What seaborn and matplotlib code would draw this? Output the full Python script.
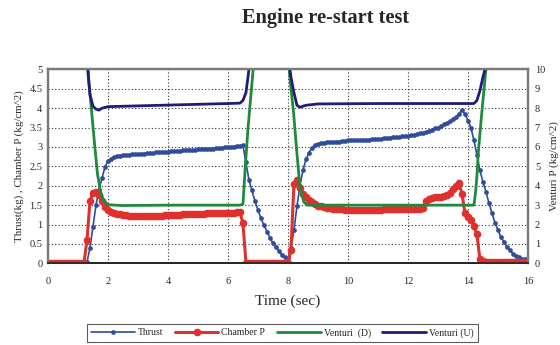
import matplotlib
matplotlib.use("Agg")
import matplotlib.pyplot as plt
import seaborn as sns
import numpy as np

# ---------------- data ----------------
time_grid = [round(0.1 * i, 1) for i in range(161)]

thrust = [0, 0, 0, 0, 0, 0, 0, 0, 0, 0, 0, 0, 0,            # 0.0-1.2
          0.03, 0.4, 0.94, 1.5, 1.9, 2.2, 2.48, 2.64, 2.7,    # 1.3-2.1
          2.74, 2.76, 2.78, 2.79, 2.8, 2.8, 2.81, 2.81, 2.82, # 2.2-3.0
          2.83, 2.83, 2.84, 2.84, 2.85, 2.86, 2.86, 2.87, 2.87, 2.88,  # 3.1-4.0
          2.89, 2.89, 2.9, 2.9, 2.91, 2.91, 2.92, 2.92, 2.93, 2.94,    # 4.1-5.0
          2.94, 2.95, 2.95, 2.96, 2.96, 2.97, 2.98, 2.98, 2.99, 3.0,   # 5.1-6.0
          3.0, 3.01, 3.02, 3.03, 3.04,                                 # 6.1-6.5
          2.6, 2.15, 1.88, 1.6, 1.38, 1.16, 0.98, 0.82, 0.66, 0.52,    # 6.6-7.5
          0.41, 0.32, 0.22, 0.16, 0.13,                                # 7.6-8.0
          0.4, 0.85, 1.47, 2.0, 2.4, 2.68, 2.85, 2.98, 3.05, 3.08,     # 8.1-9.0
          3.1, 3.11, 3.12, 3.12, 3.13, 3.14, 3.14, 3.15, 3.16, 3.17,   # 9.1-10.0
          3.17, 3.18, 3.18, 3.18, 3.19, 3.19, 3.19, 3.2, 3.2, 3.2,     # 10.1-11.0
          3.21, 3.22, 3.23, 3.24, 3.25, 3.26, 3.26, 3.27, 3.28, 3.29,  # 11.1-12.0
          3.3, 3.31, 3.33, 3.35, 3.36, 3.39, 3.42, 3.45, 3.48, 3.5,    # 12.1-13.0
          3.54, 3.58, 3.62, 3.66, 3.71, 3.77, 3.86, 3.95, 3.85, 3.68,  # 13.1-14.0
          3.5, 3.17, 2.8, 2.4, 2.1, 1.85, 1.55, 1.3, 1.05, 0.86,       # 14.1-15.0
          0.68, 0.55, 0.42, 0.34, 0.25, 0.2, 0.16, 0.12, 0.1, 0.08]    # 15.1-16.0

chamber_p = [0.01, 0.01, 0.02, 0.01, 0.01, 0.02, 0.01, 0.01, 0.02, 0.01, 0.01, 0.02, 0.01,  # 0.0-1.2
             0.6, 1.6, 1.82, 1.84, 1.75, 1.6, 1.46, 1.38, 1.33,       # 1.3-2.1
             1.3, 1.28, 1.26, 1.25, 1.24, 1.23, 1.23, 1.22, 1.22,     # 2.2-3.0
             1.22, 1.22, 1.22, 1.22, 1.22, 1.23, 1.23, 1.23, 1.24, 1.24,  # 3.1-4.0
             1.24, 1.25, 1.25, 1.25, 1.26, 1.26, 1.26, 1.27, 1.27, 1.28,  # 4.1-5.0
             1.28, 1.28, 1.29, 1.29, 1.29, 1.3, 1.3, 1.3, 1.31, 1.31,     # 5.1-6.0
             1.31, 1.31, 1.32, 1.32, 1.03,                                # 6.1-6.5
             0.02, 0.01, 0.02, 0.01, 0.01, 0.02, 0.01, 0.02, 0.01, 0.01,  # 6.6-7.5
             0.02, 0.01, 0.02, 0.01, 0.02,                                # 7.6-8.0
             0.34, 2.05, 2.15, 1.95, 1.8, 1.7, 1.62, 1.57, 1.52, 1.49,    # 8.1-9.0
             1.47, 1.45, 1.43, 1.42, 1.41, 1.4, 1.39, 1.39, 1.38, 1.38,   # 9.1-10.0
             1.38, 1.37, 1.37, 1.37, 1.37, 1.38, 1.38, 1.38, 1.38, 1.38,  # 10.1-11.0
             1.38, 1.39, 1.39, 1.39, 1.39, 1.39, 1.4, 1.4, 1.4, 1.4,      # 11.1-12.0
             1.4, 1.41, 1.41, 1.41, 1.42, 1.6, 1.65, 1.68, 1.7, 1.71,     # 12.1-13.0
             1.72, 1.73, 1.75, 1.82, 1.92, 2.0, 2.06, 1.8, 1.3, 1.2,      # 13.1-14.0
             1.12, 0.95, 0.75, 0.1, 0.05, 0.04, 0.04, 0.03, 0.04, 0.03,   # 14.1-15.0
             0.04, 0.03, 0.04, 0.03, 0.04, 0.03, 0.04, 0.03, 0.04, 0.03]  # 15.1-16.0

venturi_d_time = [0, 1.3, 1.35, 1.45, 1.55, 1.65, 1.75, 1.85, 2.0, 2.5, 4.0, 6.4, 6.5,
                  6.57, 6.67, 6.84, 7.0, 8.0, 8.03, 8.1, 8.18, 8.3, 8.4, 8.53, 8.65,
                  10.0, 12.0, 14.2, 14.25, 14.3, 14.35, 14.47, 14.6, 14.7, 16.0]
venturi_d = [14, 10.5, 9.5, 7.9, 6.2, 4.6, 3.7, 3.25, 3.02, 2.98, 3.0, 3.0, 3.05,
             4.8, 7.0, 10.0, 12, 12, 10.2, 9.0, 7.9, 5.66, 3.93, 3.16, 3.0,
             3.0, 3.0, 3.0, 3.6, 4.5, 5.8, 7.9, 10.0, 11.5, 14]

venturi_u_time = [0, 1.3, 1.35, 1.4, 1.5, 1.6, 1.7, 1.8, 2.0, 3.0, 4.0, 5.0, 6.0, 6.4,
                  6.5, 6.6, 6.7, 6.8, 8.0, 8.05, 8.1, 8.2, 8.3, 8.4, 8.6, 9.0,
                  11.0, 13.0, 14.2, 14.3, 14.4, 14.5, 14.6, 14.7, 16.0]
venturi_u = [14, 11, 9.6, 8.7, 8.1, 7.95, 7.9, 8.0, 8.08, 8.12, 8.16, 8.2, 8.24, 8.26,
             8.4, 8.8, 10.0, 11, 12, 10.2, 9.6, 8.8, 8.15, 8.05, 8.15, 8.22,
             8.24, 8.24, 8.24, 8.4, 8.9, 9.6, 10.2, 11, 14]

x_ticks = [0, 2, 4, 6, 8, 10, 12, 14, 16]
left_ticks = [0, 0.5, 1, 1.5, 2, 2.5, 3, 3.5, 4, 4.5, 5]
left_tick_labels = ["0", "0.5", "1", "1.5", "2", "2.5", "3", "3.5", "4", "4.5", "5"]
right_ticks = [0, 1, 2, 3, 4, 5, 6, 7, 8, 9, 10]

# ---------------- style ----------------
sns.set_style("white")
plt.rcParams['font.family'] = ['Liberation Serif', 'DejaVu Serif']

c_thrust = "#2f4c9c"
c_cham = "#e0302e"
c_vd = "#1f8a3c"
c_vu = "#201c78"

fig = plt.figure(figsize=(5.6, 3.45), dpi=100)
ax = fig.add_axes([0.0857, 0.2368, 0.857, 0.562])
ax2 = ax.twinx()

sns.lineplot(x=time_grid, y=thrust, ax=ax, color=c_thrust, linewidth=1.2,
             marker='o', markersize=3.4, markeredgewidth=0, label="Thrust",
             estimator=None, sort=False, zorder=3)
sns.lineplot(x=time_grid, y=chamber_p, ax=ax, color=c_cham, linewidth=2.2,
             marker='o', markersize=5.5, markeredgewidth=0, label="Chamber P",
             estimator=None, sort=False, zorder=4)
sns.lineplot(x=venturi_d_time, y=venturi_d, ax=ax2, color=c_vd, linewidth=2.0,
             label="Venturi  (D)", estimator=None, sort=False)
sns.lineplot(x=venturi_u_time, y=venturi_u, ax=ax2, color=c_vu, linewidth=2.0,
             label="Venturi (U)", estimator=None, sort=False)

ax.set_xlim(0, 16)
ax.set_ylim(0, 5)
ax2.set_ylim(0, 10)
ax.set_xticks(x_ticks)
ax.set_xticklabels([str(v) for v in x_ticks], fontsize=7.5)
ax.set_yticks(left_ticks)
ax.set_yticklabels(left_tick_labels, fontsize=7.5)
ax2.set_yticks(right_ticks)
ax2.set_yticklabels([str(v) for v in right_ticks], fontsize=7.5)
ax.tick_params(axis='y', length=0, pad=4)
ax.tick_params(axis='x', length=0, pad=10)
ax2.tick_params(length=0, pad=5)

ax.grid(True, linestyle=(0, (1, 2)), color="#333333", linewidth=0.8)
ax.set_axisbelow(True)

for a in (ax, ax2):
    for s in a.spines.values():
        s.set_color("#7a7a7a")
        s.set_linewidth(1.6)
    a.spines['bottom'].set_color("#222222")
    a.spines['bottom'].set_linewidth(1.2)

ax.set_xlabel("Time (sec)", fontsize=11, labelpad=6)
ax.set_ylabel("Thrust(kg) , Chamber P (kg/cm^2)", fontsize=7.8, labelpad=4)
ax2.set_ylabel("Venturi P (kg/cm^2)", fontsize=8, labelpad=3)

fig.text(326 / 560, 1 - 18 / 345, "Engine re-start test", ha="center", va="center",
         fontsize=14.7, fontweight="bold")

h1, l1 = ax.get_legend_handles_labels()
h2, l2 = ax2.get_legend_handles_labels()
for a in (ax, ax2):
    if a.get_legend() is not None:
        a.get_legend().remove()
leg = fig.legend(h1 + h2, l1 + l2, loc="center", bbox_to_anchor=(0.504, 0.035),
                 ncol=4, fontsize=7, frameon=True, fancybox=False, handlelength=4.5,
                 columnspacing=1.2, handletextpad=0.3, borderpad=0.4, markerscale=1.0)
leg.get_frame().set_edgecolor("#333333")
leg.get_frame().set_linewidth(0.8)

fig.savefig("out.png", dpi=100)
